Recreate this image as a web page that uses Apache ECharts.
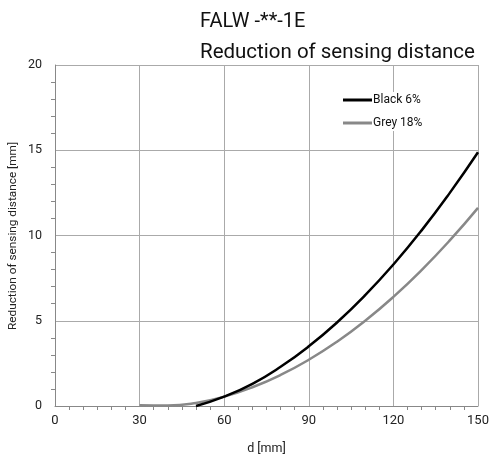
<!DOCTYPE html>
<html>
<head>
<meta charset="utf-8">
<script src="https://cdn.jsdelivr.net/npm/echarts@6/dist/echarts.min.js"></script>
<style>html,body{margin:0;padding:0;background:#fff}#c{width:496px;height:460px}</style>
</head>
<body>
<div id="c"></div>
<script>
const blackD = [50, 60, 70, 80, 90, 100, 110, 120, 130, 140, 150];
const blackR = [0.0, 0.55, 1.3, 2.3, 3.5, 4.9, 6.5, 8.3, 10.3, 12.5, 14.88];
const greyD = [30, 40, 50, 60, 70, 80, 90, 100, 110, 120, 130, 140, 150];
const greyR = [0.05, 0.03, 0.18, 0.55, 1.1, 1.82, 2.71, 3.77, 5.0, 6.4, 7.97, 9.71, 11.62];
const xTicks = [0, 30, 60, 90, 120, 150];
const yTicks = [0, 5, 10, 15, 20];
const seriesNames = ['Black 6%', 'Grey 18%'];

const font = 'Roboto';
const chart = echarts.init(document.getElementById('c'), null, {renderer: 'canvas'});
const pairs = (xs, ys) => xs.map((x, i) => [x, ys[i]]);
chart.setOption({
  animation: false,
  backgroundColor: '#fff',
  title: [
    {text: 'FALW -**-1E', left: 200, top: 12, padding: 0, textStyle: {fontFamily: font, fontSize: 20, fontWeight: 'normal', color: '#111'}},
    {text: 'Reduction of sensing distance', left: 200, top: 42, padding: 0, textStyle: {fontFamily: font, fontSize: 20.5, fontWeight: 'normal', color: '#111'}}
  ],
  grid: {left: 55, right: 18, top: 65, bottom: 51.5, containLabel: false},
  legend: {
    orient: 'vertical', left: 343, top: 92, itemWidth: 29, itemHeight: 3, itemGap: 11,
    icon: 'rect',
    backgroundColor: '#fff', padding: [2, 4, 2, 0],
    textStyle: {fontFamily: font, fontSize: 12, color: '#111', padding: [0, 0, 0, -4]},
    data: seriesNames
  },
  xAxis: {
    type: 'value', min: xTicks[0], max: xTicks[xTicks.length - 1], interval: 30,
    name: 'd [mm]', nameLocation: 'middle', nameGap: 36,
    nameTextStyle: {fontFamily: font, fontSize: 12.5, color: '#222'},
    axisLine: {lineStyle: {color: '#888', width: 1}},
    axisTick: {show: false},
    minorTick: {show: true, splitNumber: 6, length: 4, lineStyle: {color: '#888'}},
    axisLabel: {fontFamily: font, fontSize: 13, color: '#222', margin: 8},
    splitLine: {show: true, lineStyle: {color: '#aaa', width: 1}}
  },
  yAxis: {
    type: 'value', min: yTicks[0], max: yTicks[yTicks.length - 1], interval: 5,
    axisLine: {show: true, lineStyle: {color: '#888', width: 1}},
    axisTick: {show: false},
    minorTick: {show: true, splitNumber: 5, length: 4, lineStyle: {color: '#888'}},
    axisLabel: {fontFamily: font, fontSize: 12.5, color: '#222', margin: 13},
    splitLine: {show: true, lineStyle: {color: '#aaa', width: 1}}
  },
  graphic: [{
    type: 'text', x: 13, y: 236, rotation: Math.PI / 2,
    style: {text: 'Reduction of sensing distance [mm]', fontFamily: font, fontSize: 11.8, fill: '#222', align: 'center', verticalAlign: 'middle'}
  }],
  series: [
    {name: seriesNames[0], type: 'line', smooth: true, symbol: 'none', clip: true,
     lineStyle: {color: '#000', width: 2.5}, itemStyle: {color: '#000'}, data: pairs(blackD, blackR), z: 3},
    {name: seriesNames[1], type: 'line', smooth: true, symbol: 'none', clip: true,
     lineStyle: {color: '#888', width: 2.5}, itemStyle: {color: '#888'}, data: pairs(greyD, greyR), z: 2}
  ]
});
</script>
</body>
</html>
